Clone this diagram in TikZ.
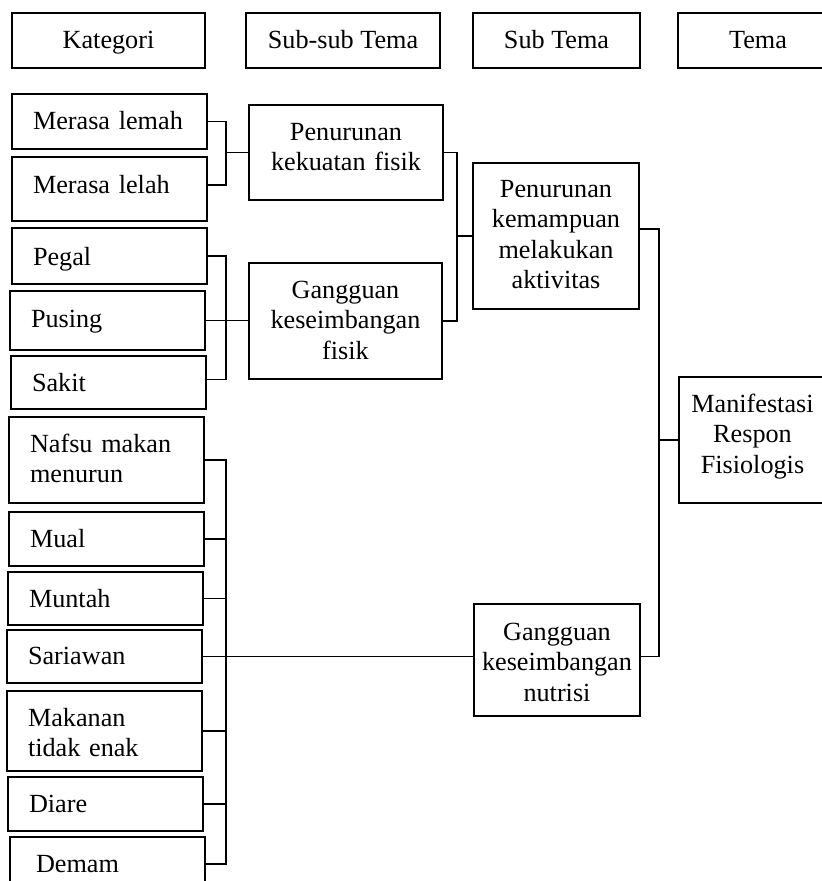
\documentclass[tikz,border=0pt]{standalone}
\usepackage{fontspec}
\setmainfont{Liberation Serif}
\newcommand{\boxfont}{\fontsize{26.2}{30.5}\selectfont}
\begin{document}
\begin{tikzpicture}[x=1pt, y=-1pt,
  box/.style={draw, line width=1.9pt, inner ysep=0pt, text height=18pt, text depth=2pt, font=\boxfont},
  cat/.style={box, inner xsep=21pt, text width=153pt, align=left},
  mid/.style={box, inner xsep=0pt, align=center},
  link/.style={line width=1.9pt}]
\useasboundingbox (0,0) rectangle (822,881);
\clip (0,0) rectangle (822,881);

% column headings
\node[mid, minimum width=193pt, minimum height=55pt] (hkat) at (108.5,40.5) {Kategori};
\node[mid, minimum width=194pt, minimum height=55pt] (hsubsub) at (343,40.5) {Sub-sub Tema};
\node[mid, minimum width=167pt, minimum height=55pt] (hsub) at (556.5,40.5) {Sub Tema};
\node[mid, minimum width=160pt, minimum height=55pt] (htema) at (758,40.5) {Tema};

% categories
\node[cat, minimum height=55pt] (lemah) at (109.5,121.5) {Merasa lemah};
\node[cat, minimum height=64pt, text depth=10pt] (lelah) at (109.5,189) {Merasa lelah};
\node[cat, minimum height=56pt, text depth=0pt] (pegal) at (109.5,256) {Pegal};
\node[cat, minimum height=59pt, text depth=5pt] (pusing) at (107.5,320.5) {Pusing};
\node[cat, minimum height=53pt, text depth=1pt] (sakit) at (108.5,382.5) {Sakit};
\node[cat, minimum height=86pt, text depth=34pt] (nafsu) at (106.5,460) {Nafsu makan\\menurun};
\node[cat, minimum height=54pt] (mual) at (106.5,539) {Mual};
\node[cat, minimum height=53pt, text depth=1pt] (muntah) at (105.5,598.5) {Muntah};
\node[cat, minimum height=53pt, text depth=3pt] (sariawan) at (104.5,656.5) {Sariawan};
\node[cat, minimum height=80pt, text depth=28pt] (makanan) at (104.5,731) {Makanan\\tidak enak};
\node[cat, minimum height=54pt] (diare) at (105.5,804) {Diare};
\node[cat, minimum height=54pt] (demam) at (107.5,864) {\hspace*{5pt}Demam};

% sub-sub themes
\node[mid, text width=194pt, minimum height=95pt, text depth=43pt] (kekuatan) at (346,152.5) {Penurunan\\kekuatan fisik};
\node[mid, text width=193pt, minimum height=116pt, text depth=64pt] (gfisik) at (345.5,321) {Gangguan\\keseimbangan\\fisik};

% sub themes
\node[mid, text width=166pt, minimum height=146pt, text depth=96pt] (kemampuan) at (556,236) {Penurunan\\kemampuan\\melakukan\\aktivitas};
\node[mid, text width=166pt, minimum height=112pt, text depth=58pt] (nutrisi) at (557,660) {Gangguan\\keseimbangan\\nutrisi};

% theme
\node[mid, text width=147pt, minimum height=126pt, text depth=74pt] (manif) at (752.5,440) {Manifestasi\\Respon\\Fisiologis};

% x positions of the bracket spines
\coordinate (bk) at (226,0);
\coordinate (bm) at (457,0);
\coordinate (bt) at (659,0);

% attachment points a little above the box centres
\coordinate (lelahc) at ([yshift=4pt]lelah.east);
\coordinate (sakitc) at ([yshift=3pt]sakit.east);
\coordinate (kemampuanc) at ([yshift=7pt]kemampuan.east);

% categories -> sub-sub themes
\draw[link] (lemah.east) -| (bk |- lelahc) -- (lelahc);
\draw[link] (bk |- kekuatan.west) -- (kekuatan.west);
\draw[link] (pegal.east) -| (bk |- sakitc) -- (sakitc);
\draw[link] (pusing.east) -- (pusing.east -| gfisik.west);

% categories -> nutrition sub theme
\draw[link] (nafsu.east) -| (bk |- demam.east) -- (demam.east);
\foreach \n in {mual,muntah,makanan,diare}
  \draw[link] (\n.east) -- (bk |- \n.east);
\draw[link] (sariawan.east) -- (sariawan.east -| nutrisi.west);

% sub-sub themes -> sub theme
\draw[link] (kekuatan.east) -| (bm |- gfisik.east) -- (gfisik.east);
\draw[link] (bm |- kemampuan.west) -- (kemampuan.west);

% sub themes -> theme
\draw[link] (kemampuanc) -| (bt |- sariawan.east) -- (sariawan.east -| nutrisi.east);
\draw[link] (bt |- manif.west) -- (manif.west);
\end{tikzpicture}
\end{document}
